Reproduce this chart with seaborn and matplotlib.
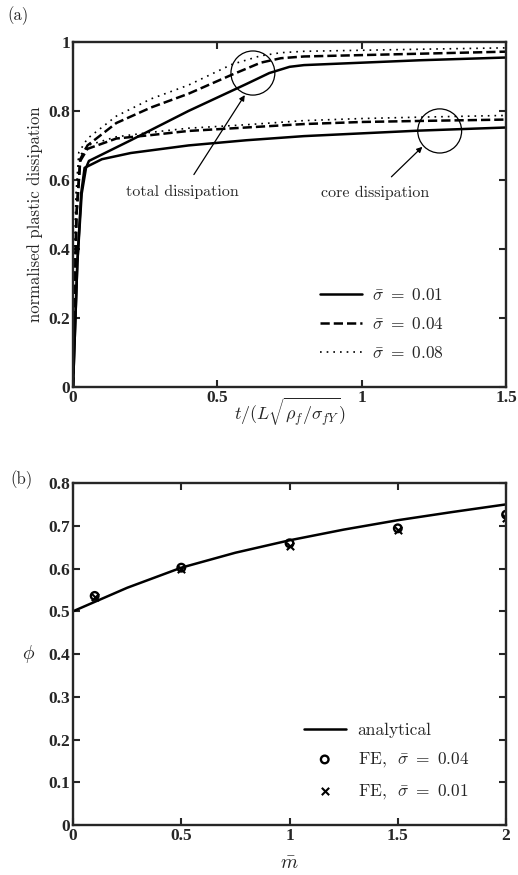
import numpy as np
import pandas as pd
import matplotlib
matplotlib.use("Agg")
import matplotlib.pyplot as plt
from matplotlib.patches import Ellipse
import seaborn as sns

# ---- (a) normalised plastic dissipation vs time ----
t_total_001 = [0.0, 0.005, 0.015, 0.03, 0.045, 0.055, 0.2, 0.4, 0.6, 0.68, 0.75, 0.8, 1.0, 1.2, 1.5]
d_total_001 = [0.0, 0.12, 0.36, 0.56, 0.635, 0.655, 0.715, 0.80, 0.878, 0.91, 0.928, 0.933, 0.940, 0.947, 0.955]
t_core_001 = [0.0, 0.005, 0.015, 0.028, 0.04, 0.1, 0.2, 0.4, 0.6, 0.8, 1.0, 1.2, 1.5]
d_core_001 = [0.0, 0.12, 0.36, 0.56, 0.635, 0.66, 0.678, 0.70, 0.715, 0.727, 0.735, 0.743, 0.752]

t_total_004 = [0.0, 0.004, 0.012, 0.025, 0.05, 0.15, 0.27, 0.4, 0.55, 0.65, 0.72, 0.8, 1.0, 1.2, 1.5]
d_total_004 = [0.0, 0.2, 0.5, 0.66, 0.70, 0.765, 0.81, 0.85, 0.905, 0.94, 0.953, 0.958, 0.962, 0.966, 0.972]
t_core_004 = [0.0, 0.004, 0.012, 0.025, 0.05, 0.15, 0.27, 0.4, 0.6, 0.8, 1.0, 1.2, 1.5]
d_core_004 = [0.0, 0.2, 0.5, 0.655, 0.69, 0.72, 0.73, 0.742, 0.752, 0.762, 0.768, 0.771, 0.775]

t_total_008 = [0.0, 0.003, 0.01, 0.02, 0.05, 0.15, 0.27, 0.4, 0.55, 0.65, 0.72, 0.8, 1.0, 1.2, 1.5]
d_total_008 = [0.0, 0.25, 0.55, 0.68, 0.72, 0.785, 0.835, 0.875, 0.935, 0.96, 0.969, 0.973, 0.976, 0.979, 0.983]
t_core_008 = [0.0, 0.003, 0.01, 0.02, 0.05, 0.15, 0.27, 0.4, 0.6, 0.8, 1.0, 1.2, 1.5]
d_core_008 = [0.0, 0.25, 0.55, 0.665, 0.70, 0.725, 0.738, 0.75, 0.76, 0.772, 0.778, 0.782, 0.787]

sigma_labels_a = [r"$\bar{\sigma}\ =\ 0.01$", r"$\bar{\sigma}\ =\ 0.04$", r"$\bar{\sigma}\ =\ 0.08$"]

# ---- (b) phi vs m ----
m_analytic = [0.0, 0.25, 0.5, 0.75, 1.0, 1.25, 1.5, 1.75, 2.0]
phi_analytic = [0.50, 0.555, 0.602, 0.637, 0.666, 0.691, 0.713, 0.732, 0.750]
m_fe = [0.1, 0.5, 1.0, 1.5, 2.0]
phi_fe_004 = [0.536, 0.602, 0.659, 0.694, 0.726]
phi_fe_001 = [0.533, 0.598, 0.653, 0.690, 0.719]

sns.set_style("ticks")
plt.rcParams["font.family"] = ["cmr10", "DejaVu Serif"]
plt.rcParams["mathtext.fontset"] = "cm"
plt.rcParams["axes.formatter.use_mathtext"] = True

fig = plt.figure(figsize=(5.18, 8.75), dpi=100)
ax1 = fig.add_axes([0.141, 0.558, 0.836, 0.394])
ax2 = fig.add_axes([0.141, 0.057, 0.836, 0.391])

tick_font = dict(family="Liberation Serif", weight="bold", size=12.5)

lw = 1.8
styles = [("-", lw), ("--", lw), ((0, (1, 3)), 1.2)]
series = [
    (t_total_001, d_total_001, t_core_001, d_core_001),
    (t_total_004, d_total_004, t_core_004, d_core_004),
    (t_total_008, d_total_008, t_core_008, d_core_008),
]
for (tt, dt, tc, dc), (ls, w), lab in zip(series, styles, sigma_labels_a):
    sns.lineplot(x=tt, y=dt, ax=ax1, color="black", linestyle=ls, linewidth=w,
                 label=lab, sort=False)
    sns.lineplot(x=tc, y=dc, ax=ax1, color="black", linestyle=ls, linewidth=w,
                 sort=False)

ax1.set_xlim(0, 1.5)
ax1.set_ylim(0, 1)
ax1.set_xticks([0, 0.5, 1, 1.5])
ax1.set_xticklabels(["0", "0.5", "1", "1.5"], **tick_font)
ax1.set_yticks([0, 0.2, 0.4, 0.6, 0.8, 1])
ax1.set_yticklabels(["0", "0.2", "0.4", "0.6", "0.8", "1"], **tick_font)
ax1.set_xlabel(r"$t/(L\sqrt{\rho_f/\sigma_{fY}})$", fontsize=13, labelpad=-7)
ax1.set_ylabel("normalised plastic dissipation", fontsize=12, labelpad=4)

# highlight circles and annotations
for cx, cy in [(0.623, 0.910), (1.27, 0.742)]:
    ax1.add_patch(Ellipse((cx, cy), width=0.152, height=0.128, fill=False,
                          edgecolor="black", linewidth=0.9))
ax1.annotate("total dissipation", xy=(0.595, 0.846), xytext=(0.38, 0.565),
             ha="center", va="center", fontsize=11.5,
             arrowprops=dict(arrowstyle="-|>", color="black", lw=0.9,
                             mutation_scale=8, shrinkA=6, shrinkB=0))
ax1.annotate("core dissipation", xy=(1.21, 0.696), xytext=(1.045, 0.562),
             ha="center", va="center", fontsize=11.5,
             arrowprops=dict(arrowstyle="-|>", color="black", lw=0.9,
                             mutation_scale=8, shrinkA=6, shrinkB=0))

leg1 = ax1.legend(loc="upper left", bbox_to_anchor=(0.535, 0.335), frameon=False,
                  fontsize=12.5, handlelength=2.4, handletextpad=0.6,
                  labelspacing=0.75)

# ---- panel (b) ----
sns.lineplot(x=m_analytic, y=phi_analytic, ax=ax2, color="black", linewidth=1.8,
             label="analytical")
sns.scatterplot(x=m_fe, y=phi_fe_004, ax=ax2, marker="o", s=30,
                facecolor="none", edgecolor="black", linewidth=1.7,
                label=r"FE,  $\bar{\sigma}\ =\ 0.04$")
sns.scatterplot(x=m_fe, y=phi_fe_001, ax=ax2, marker="x", s=28, color="black",
                linewidth=1.5, label=r"FE,  $\bar{\sigma}\ =\ 0.01$")

ax2.set_xlim(0, 2)
ax2.set_ylim(0, 0.8)
ax2.set_xticks([0, 0.5, 1, 1.5, 2])
ax2.set_xticklabels(["0", "0.5", "1", "1.5", "2"], **tick_font)
ax2.set_yticks([0, 0.1, 0.2, 0.3, 0.4, 0.5, 0.6, 0.7, 0.8])
ax2.set_yticklabels(["0", "0.1", "0.2", "0.3", "0.4", "0.5", "0.6", "0.7", "0.8"],
                    **tick_font)
ax2.set_xlabel(r"$\bar{m}$", fontsize=14, labelpad=8)
ax2.set_ylabel(r"$\phi$", fontsize=14, rotation=0, labelpad=14, va="center")

leg2 = ax2.legend(loc="upper left", bbox_to_anchor=(0.497, 0.345), frameon=False,
                  fontsize=12.5, handlelength=2.4, handletextpad=0.7,
                  labelspacing=0.72)

for ax in (ax1, ax2):
    for sp in ax.spines.values():
        sp.set_visible(True)
        sp.set_linewidth(1.7)
    ax.tick_params(direction="in", length=5, width=1.5, top=True, right=True,
                   pad=2)

fig.text(0.015, 0.982, "(a)", fontsize=12, ha="left", va="center")
fig.text(0.02, 0.452, "(b)", fontsize=12, ha="left", va="center")

fig.savefig("out.png", dpi=100)
